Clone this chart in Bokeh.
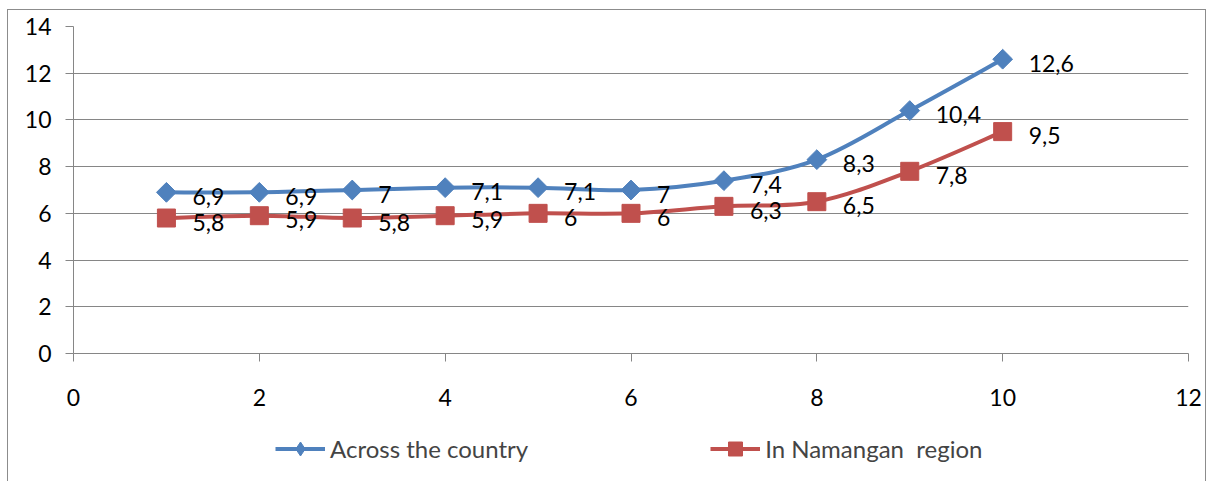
import math
from bokeh.plotting import figure
from bokeh.layouts import column
from bokeh.models import (ColumnDataSource, Legend, LegendItem, FixedTicker,
                          Range1d, LabelSet)
from bokeh.core.properties import value
from bokeh.embed import file_html
from bokeh.resources import INLINE

# ---- data ----
years = [1, 2, 3, 4, 5, 6, 7, 8, 9, 10]
country = [6.9, 6.9, 7.0, 7.1, 7.1, 7.0, 7.4, 8.3, 10.4, 12.6]
namangan = [5.8, 5.9, 5.8, 5.9, 6.0, 6.0, 6.3, 6.5, 7.8, 9.5]
series_names = ["Across the country", "In Namangan  region"]
x_ticks = [0, 2, 4, 6, 8, 10, 12]
y_ticks = [0, 2, 4, 6, 8, 10, 12, 14]

BLUE = "#4F81BD"
RED = "#C0504D"
GRID = "#868686"
FONT = "Lato"
FS = "23px"


def fmt(v):
    s = ("%.1f" % v).rstrip("0").rstrip(".")
    return s.replace(".", ",")


def smooth_segments(xs, ys):
    """Bezier control points for a smoothed line through the given points."""
    n = len(xs)
    seg = dict(x0=[], y0=[], x1=[], y1=[], cx0=[], cy0=[], cx1=[], cy1=[])
    for i in range(n - 1):
        xm = xs[i - 1] if i > 0 else xs[i]
        ym = ys[i - 1] if i > 0 else ys[i]
        xp = xs[i + 2] if i + 2 < n else xs[i + 1]
        yp = ys[i + 2] if i + 2 < n else ys[i + 1]
        seg["x0"].append(xs[i]); seg["y0"].append(ys[i])
        seg["x1"].append(xs[i + 1]); seg["y1"].append(ys[i + 1])
        seg["cx0"].append(xs[i] + (xs[i + 1] - xm) / 6.0)
        seg["cy0"].append(ys[i] + (ys[i + 1] - ym) / 6.0)
        seg["cx1"].append(xs[i + 1] - (xp - xs[i]) / 6.0)
        seg["cy1"].append(ys[i + 1] - (yp - ys[i]) / 6.0)
    return seg


# (values, colour, plot marker, size, angle, legend marker)
STYLES = [(country, BLUE, "square", 14, math.pi / 4, "diamond"),
          (namangan, RED, "square", 18, 0.0, "square")]

p = figure(width=1197, height=413, output_backend="svg", toolbar_location=None,
           x_range=Range1d(0, 12), y_range=Range1d(0, 14),
           min_border_left=65, min_border_right=17, min_border_top=16,
           min_border_bottom=70)
p.outline_line_color = None
p.background_fill_color = "white"
p.border_fill_color = "white"

p.xgrid.grid_line_color = None
p.ygrid.grid_line_color = GRID
p.ygrid.grid_line_width = 1
p.ygrid.ticker = FixedTicker(ticks=y_ticks)

for ax in (p.xaxis[0], p.yaxis[0]):
    ax.axis_line_color = GRID
    ax.axis_line_width = 1
    ax.major_tick_line_color = GRID
    ax.major_tick_in = 0
    ax.major_tick_out = 8
    ax.minor_tick_line_color = None
    ax.major_label_text_font = FONT
    ax.major_label_text_font_size = FS
    ax.major_label_text_color = "black"

p.xaxis.ticker = FixedTicker(ticks=x_ticks)
p.yaxis.ticker = FixedTicker(ticks=y_ticks)
p.xaxis.major_label_standoff = 27
p.yaxis.major_label_standoff = 14

for ys, color, marker, size, ang, _ in STYLES:
    seg = ColumnDataSource(smooth_segments(years, ys))
    p.bezier(x0="x0", y0="y0", x1="x1", y1="y1", cx0="cx0", cy0="cy0",
             cx1="cx1", cy1="cy1", source=seg, line_color=color, line_width=4)
    src = ColumnDataSource(dict(x=years, y=ys, t=[fmt(v) for v in ys]))
    p.scatter("x", "y", source=src, marker=marker, size=size, angle=ang,
              fill_color=color, line_color=color)
    lbl = LabelSet(x="x", y="y", text="t", source=src, x_offset=26, y_offset=-4,
                   text_baseline="middle", text_font=value(FONT),
                   text_font_size=FS, text_color="black")
    p.add_layout(lbl)

# legend strip underneath (its renderers hold the series but lie out of view)
q = figure(width=1197, height=58, output_backend="svg", toolbar_location=None,
           x_range=Range1d(-20, -19), y_range=Range1d(-20, -19),
           x_axis_type=None, y_axis_type=None,
           min_border_left=0, min_border_right=0, min_border_top=0,
           min_border_bottom=0)
q.outline_line_color = None
q.xgrid.grid_line_color = None
q.ygrid.grid_line_color = None
q.background_fill_color = "white"
q.border_fill_color = "white"
items = []
for (ys, color, marker, size, ang, lmarker), name in zip(STYLES, series_names):
    lr = q.line(x=years, y=ys, line_color=color, line_width=4)
    sr = q.scatter(x=years, y=ys, marker=lmarker, size=size,
                   fill_color=color, line_color=color)
    items.append(LegendItem(label=name, renderers=[lr, sr]))
legend = Legend(items=items, orientation="horizontal", location=(202, 15),
                spacing=182, glyph_width=50, glyph_height=35, label_standoff=5,
                label_text_font=FONT, label_text_font_size="24px",
                label_text_baseline="middle",
                border_line_color=None, background_fill_alpha=0,
                margin=0, padding=0)
q.add_layout(legend, "center")

layout = column(p, q, spacing=0)
layout.margin = (9, 0, 0, 7)
layout.styles = {"border": "1px solid #8c8c8c", "background": "white"}

open("out.html", "w").write(file_html(layout, INLINE))
